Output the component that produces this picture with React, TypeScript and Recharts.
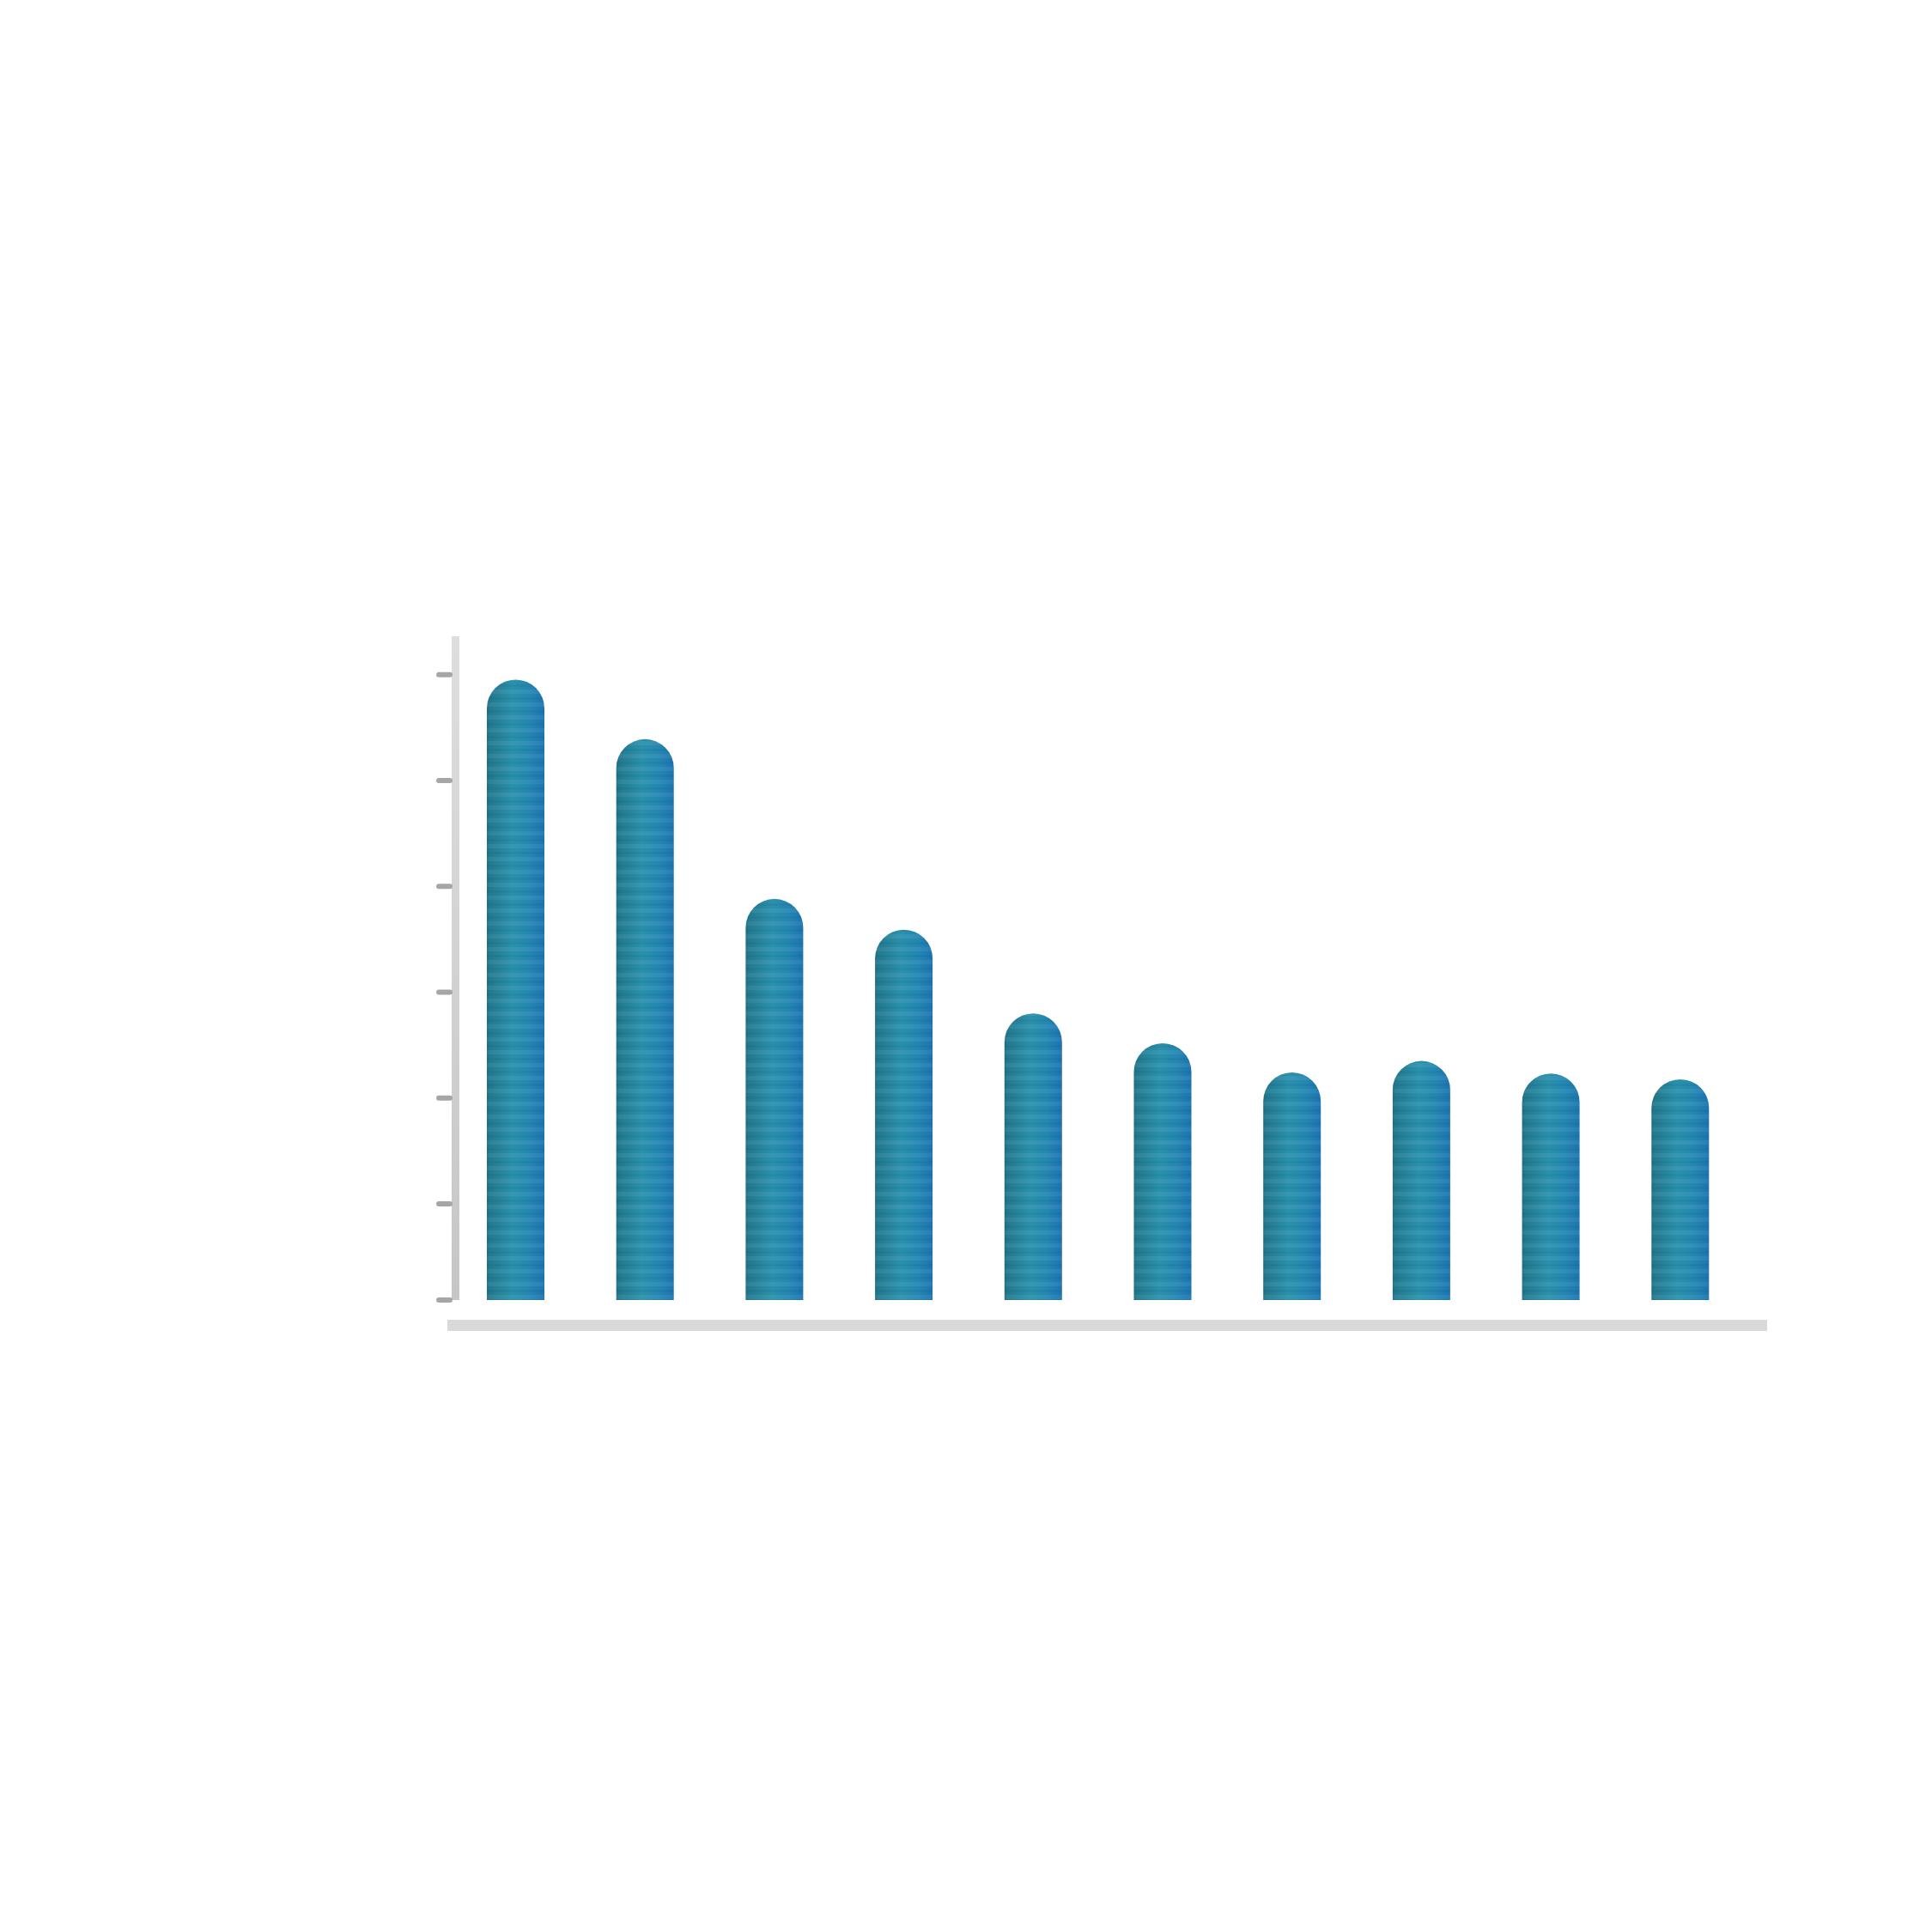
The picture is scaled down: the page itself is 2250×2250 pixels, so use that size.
import React from 'react';
import { BarChart, Bar, XAxis, YAxis } from 'recharts';

const categories = ['A', 'B', 'C', 'D', 'E', 'F', 'G', 'H', 'I', 'J'];
const values = [64.5, 58.3, 41.7, 38.5, 29.8, 26.7, 23.65, 24.85, 23.55, 22.95];
const yTicks = [0, 10, 21, 32, 43, 54, 65];

const data = categories.map((c, i) => ({ name: c, value: values[i] }));

const RoundTopBar = (props: any) => {
  const { x, y, width, height } = props;
  if (!height || height <= 0) return null;
  const r = Math.min(width / 2, height);
  const d = `M${x},${y + height} L${x},${y + r} A${r},${r} 0 0 1 ${x + width},${y + r} L${x + width},${y + height} Z`;
  return (
    <g>
      <path d={d} fill="url(#barGrad)" />
      <path d={d} fill="url(#barStripes)" />
    </g>
  );
};

const EmptyTick = () => <g />;

export default function App() {
  return (
    <div style={{ width: 2234, height: 2200, background: '#ffffff' }}>
      <BarChart
        width={2234}
        height={2200}
        data={data}
        margin={{ top: 733, right: 184, bottom: 664, left: 493 }}
        barCategoryGap={0}
      >
        <defs>
          <linearGradient id="barGrad" x1="0" y1="0" x2="1" y2="0">
            <stop offset="0%" stopColor="#1f6d83" />
            <stop offset="5%" stopColor="#23798f" />
            <stop offset="45%" stopColor="#2a91ac" />
            <stop offset="75%" stopColor="#2486b2" />
            <stop offset="100%" stopColor="#1c74b0" />
          </linearGradient>
          <pattern id="barStripes" patternUnits="userSpaceOnUse" width="20" height="15">
            <rect x="0" y="0" width="20" height="5" fill="rgba(255,255,255,0.06)" />
            <rect x="0" y="9" width="20" height="3" fill="rgba(0,0,0,0.045)" />
          </pattern>
          <linearGradient id="yAxisGrad" gradientUnits="userSpaceOnUse" x1="0" y1="733" x2="0" y2="1506">
            <stop offset="0%" stopColor="#dedede" />
            <stop offset="100%" stopColor="#c6c6c6" />
          </linearGradient>
        </defs>
        <XAxis
          dataKey="name"
          height={30}
          padding={{ left: 4, right: 26 }}
          tick={false}
          tickLine={false}
          axisLine={{ stroke: '#d9d9d9', strokeWidth: 13, transform: 'translate(0 29.5)' } as any}
        />
        <YAxis
          width={20}
          domain={[0, 69]}
          ticks={yTicks}
          interval={0}
          tick={<EmptyTick />}
          tickSize={13}
          tickLine={{ stroke: '#a6a6a6', strokeWidth: 6, strokeLinecap: 'round', transform: 'translate(3 0)' } as any}
          axisLine={{ stroke: 'url(#yAxisGrad)', strokeWidth: 9, transform: 'translate(9.5 0)' } as any}
        />
        <Bar dataKey="value" barSize={67} isAnimationActive={false} shape={<RoundTopBar />} />
      </BarChart>
    </div>
  );
}
